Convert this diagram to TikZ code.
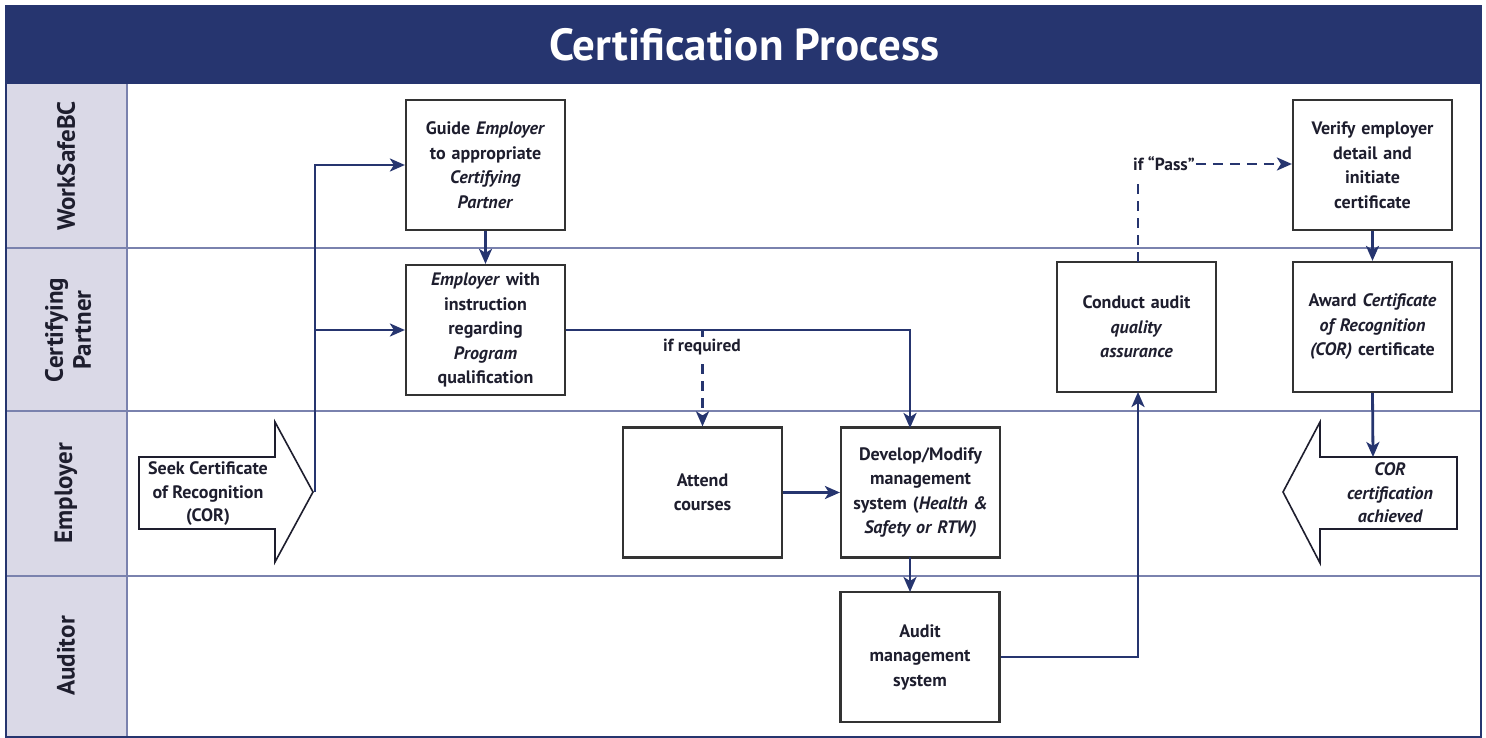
\documentclass[tikz,border=0pt]{standalone}
\usepackage{fontspec}
\setmainfont{PT Sans}
\usetikzlibrary{arrows.meta}
\definecolor{navy}{HTML}{26356F}
\definecolor{lanefill}{HTML}{DAD9E7}
\definecolor{lanel}{HTML}{7A82AE}
\definecolor{ink}{HTML}{1E1E2E}
\definecolor{boxline}{HTML}{333333}
\tikzset{
  stepbox/.style={draw=boxline, line width=2.2pt, fill=white, minimum width=159pt, minimum height=130pt,
    align=center, text width=156pt, font=\bfseries\fontsize{18}{24.5}\selectfont, text=ink, inner sep=0pt},
  flow/.style={draw=navy, line width=2.8pt, -{Stealth[length=15pt,width=13pt,inset=4pt]}},
  dflow/.style={flow, dash pattern=on 10pt off 7pt},
  dline/.style={draw=navy, line width=2.8pt, dash pattern=on 10pt off 7pt},
  lanelabel/.style={rotate=90, font=\bfseries\fontsize{25}{28}\selectfont, text=ink, align=center},
  bigarrow/.style={draw=ink, line width=1.6pt, fill=white, line join=miter},
  arrowtext/.style={align=center, font=\bfseries\fontsize{18}{23.5}\selectfont, text=ink},
  condlabel/.style={fill=white, inner sep=2pt, font=\bfseries\fontsize{17.5}{19}\selectfont, text=ink},
}
\begin{document}
\begin{tikzpicture}[x=1pt,y=-1pt]
\useasboundingbox (0,0) rectangle (1486,738);
% lanes background
\fill[lanefill] (6,84) rectangle (127,737);
\fill[navy] (6,6) rectangle (1481,84);
\node[text=white, font=\bfseries\fontsize{45}{48}\selectfont] (title) at (744,45) {Certification Process};
\draw[lanel, line width=1.8pt] (6,248) -- (1481,248);
\draw[lanel, line width=1.8pt] (6,411) -- (1481,411);
\draw[lanel, line width=1.8pt] (6,576) -- (1481,576);
\draw[lanel, line width=1.8pt] (127,84) -- (127,737);
\draw[navy, line width=2.2pt] (6,6) rectangle (1481,737);
% lane labels
\node[lanelabel] (l1) at (66,166) {WorkSafeBC};
\node[lanelabel] (l2) at (68,330) {Certifying\\Partner};
\node[lanelabel] (l3) at (66,493) {Employer};
\node[lanelabel] (l4) at (66,656) {Auditor};
% boxes
\node[stepbox] (guide) at (485.5,165) {Guide \textit{Employer}\\to appropriate\\\textit{Certifying}\\\textit{Partner}};
\node[stepbox] (instr) at (485.5,330) {\textit{Employer} with\\instruction\\regarding\\\textit{Program}\\qualification};
\node[stepbox] (attend) at (702.5,492.5) {Attend\\courses};
\node[stepbox] (develop) at (920.5,492.5) {Develop/Modify\\management\\system (\textit{Health \&}\\\textit{Safety or RTW)}};
\node[stepbox] (audit) at (920,657) {Audit\\management\\system};
\node[stepbox] (conduct) at (1136.5,327) {Conduct audit\\\textit{quality}\\\textit{assurance}};
\node[stepbox] (verify) at (1372.5,165) {Verify employer\\detail and\\initiate\\certificate};
\node[stepbox] (award) at (1372.5,327) {Award \textit{Certificate}\\\textit{of Recognition}\\\textit{(COR)} certificate};
% big arrows
\draw[bigarrow] (139,457) -- (275,457) -- (275,422) -- (313,492) -- (275,562) -- (275,529) -- (139,529) -- cycle;
\node[arrowtext] (seek) at (208,494) {Seek Certificate\\of Recognition\\(COR)};
\coordinate (seektip) at (315,492);
\draw[bigarrow] (1457,457) -- (1320,457) -- (1320,422) -- (1283,492) -- (1320,563) -- (1320,529) -- (1457,529) -- cycle;
\node[arrowtext, font=\bfseries\itshape\fontsize{18}{23.5}\selectfont] (cor) at (1390,493) {COR\\certification\\achieved};
\coordinate (cortop) at (1373,457);
% connectors
\draw[flow] (seektip) -- (seektip |- guide.west) -- (guide.west);
\draw[flow] (seektip |- instr.west) -- (instr.west);
\draw[flow] (guide) -- (instr);
\coordinate (devin) at (910,428);
\draw[flow] (instr.east) -| (devin);
\draw[dflow] (attend.north |- instr.east) -- (attend.north);
\node[condlabel] (ifreq) at (702,347) {if required};
\draw[flow] (attend) -- (develop);
\coordinate (devout) at (910,557);
\coordinate (audin) at (910,592);
\draw[flow] (devout) -- (audin);
\coordinate (condin) at (1138,392);
\draw[flow] (audit.east) -| (condin);
\node[condlabel, inner sep=1pt] (pass) at (1164,164) {if “Pass”};
\draw[dline] (1138,262) -- (1138,180);
\draw[dflow] (pass.east) -- (pass.east -| verify.west);
\draw[flow] (verify) -- (award);
\draw[flow] (award.south) -- (cortop);
\end{tikzpicture}
\end{document}
